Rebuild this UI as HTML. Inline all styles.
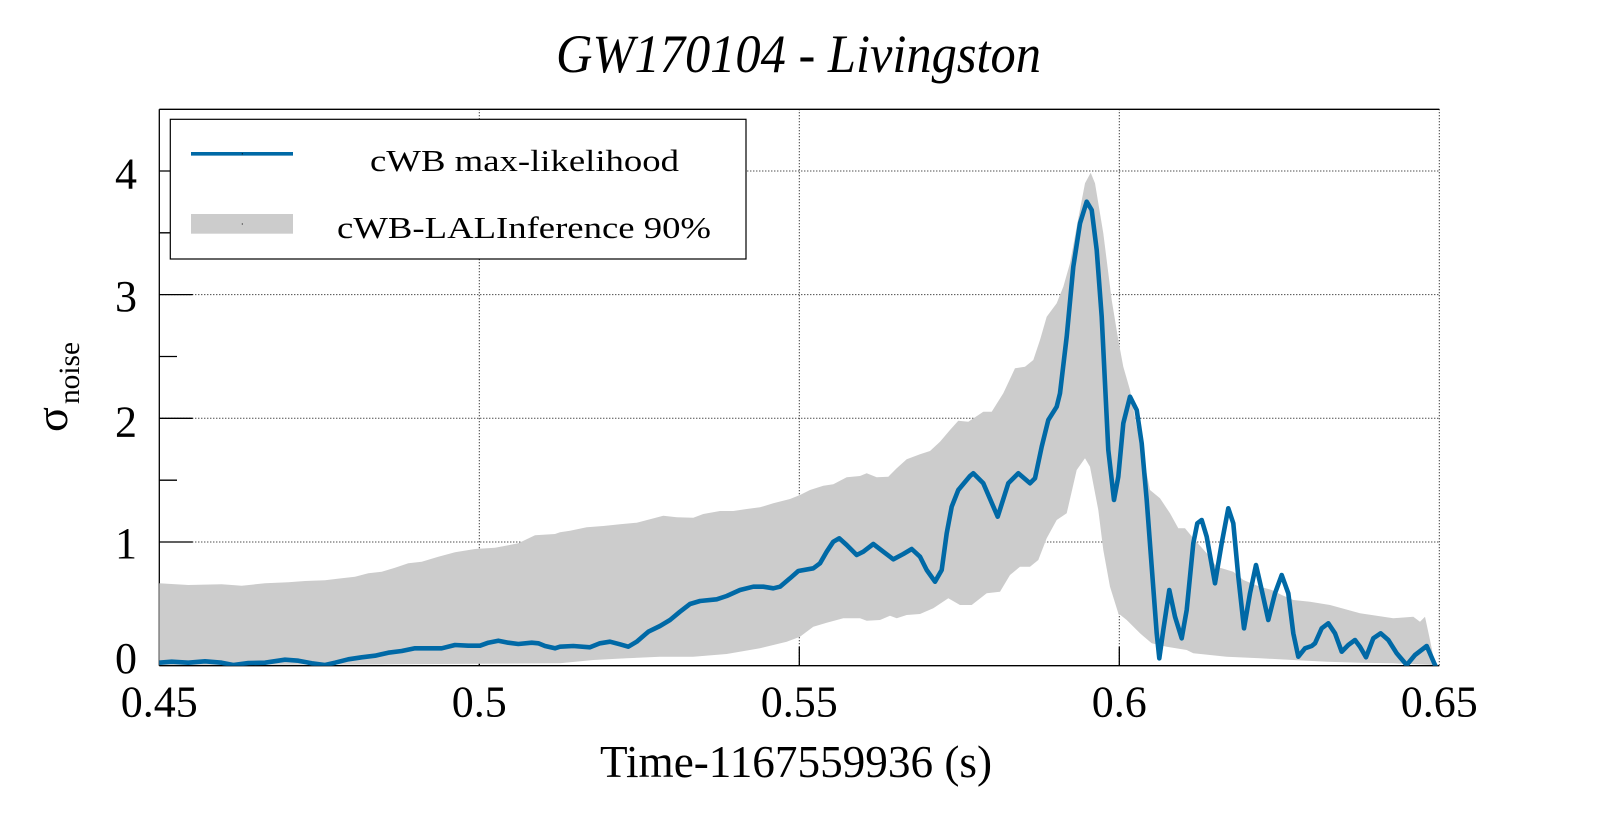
<!DOCTYPE html>
<html>
<head>
<meta charset="utf-8">
<style>
  html, body { margin: 0; padding: 0; background: #ffffff; }
  svg { display: block; }
  text { font-family: "Liberation Serif", "DejaVu Serif", serif; fill: #000; }
</style>
</head>
<body>
<svg width="1599" height="813" viewBox="0 0 1599 813" xmlns="http://www.w3.org/2000/svg">
  <rect x="0" y="0" width="1599" height="813" fill="#ffffff"/>
  <defs>
    <clipPath id="plot">
      <rect x="159.3" y="109.3" width="1280" height="556.4"/>
    </clipPath>
  </defs>

  <!-- Title -->
  <text x="556" y="72" font-size="54" font-style="italic" textLength="485" lengthAdjust="spacingAndGlyphs">GW170104 - Livingston</text>

  <!-- Grid (dotted) -->
  <g stroke="#000" stroke-width="1" stroke-dasharray="1 2" fill="none">
    <line x1="479.3" y1="109.3" x2="479.3" y2="665.7"/>
    <line x1="799.3" y1="109.3" x2="799.3" y2="665.7"/>
    <line x1="1119.3" y1="109.3" x2="1119.3" y2="665.7"/>
    <line x1="159.3" y1="171" x2="1439.3" y2="171"/>
    <line x1="159.3" y1="294.6" x2="1439.3" y2="294.6"/>
    <line x1="159.3" y1="418.3" x2="1439.3" y2="418.3"/>
    <line x1="159.3" y1="542" x2="1439.3" y2="542"/>
    <line x1="1439.3" y1="109.3" x2="1439.3" y2="665.7"/>
  </g>

  <!-- Frame -->
  <g stroke="#000" stroke-width="1.3" fill="none">
    <line x1="159.3" y1="109.3" x2="1439.3" y2="109.3"/>
    <line x1="159.3" y1="109.3" x2="159.3" y2="665.7"/>
    <line x1="159.3" y1="665.7" x2="1439.3" y2="665.7"/>
  </g>

  <!-- Ticks -->
  <g stroke="#000" stroke-width="1.3" fill="none">
    <line x1="159.3" y1="171" x2="192.5" y2="171"/>
    <line x1="159.3" y1="294.6" x2="192.5" y2="294.6"/>
    <line x1="159.3" y1="418.3" x2="192.5" y2="418.3"/>
    <line x1="159.3" y1="542" x2="192.5" y2="542"/>
    <line x1="159.3" y1="232.8" x2="177" y2="232.8"/>
    <line x1="159.3" y1="356.5" x2="177" y2="356.5"/>
    <line x1="159.3" y1="480.2" x2="177" y2="480.2"/>
    <line x1="159.3" y1="603.9" x2="177" y2="603.9"/>
    <line x1="479.3" y1="665.7" x2="479.3" y2="646.7"/>
    <line x1="799.3" y1="665.7" x2="799.3" y2="646.7"/>
    <line x1="1119.3" y1="665.7" x2="1119.3" y2="646.7"/>
  </g>

  <!-- Band -->
  <polygon clip-path="url(#plot)" fill="#cccccc" points="159,583.3 188.3,585 221.7,584.3 241.7,585.7 265,583.3 288.3,582.3 305,581 325,580.3 341.7,578.3 355,576.7 368.3,573.3 381.7,571.7 395,567.7 408.3,563.3 421.7,561.7 438.3,556.7 455,552.3 475,549 495,547.7 508.3,545.3 518.3,543.3 535,535.3 555,534 560,532.3 570,530.7 586.7,527.3 603.3,526 620,524.3 636.7,522.7 650,519.3 663.3,515.7 676.7,517.3 693.3,517.7 703.3,514 720,511 733.3,511 746.7,509 760,507.3 773.3,503.3 790,499 800,495 810,490 823.3,485.7 833.3,484.3 846.7,477.3 860,476 866.7,473.3 876.7,477.3 888.3,476.7 896.7,468.3 906.7,459.3 920,454.3 930,451 940,441.7 950,430 958.3,420.7 968.3,421.7 983.3,411.7 991.7,411.7 1003.3,393.3 1015,368.3 1025,366.7 1033.3,360 1040,340 1046.7,316.7 1056.7,303.3 1063.3,286.7 1070,263.3 1076.7,226.7 1085,183.3 1090.7,172.7 1095,183.3 1103.3,233.3 1111.7,300 1118.3,340 1123.3,366.7 1130,390 1136.7,426.7 1143.3,456.7 1150,490 1160,498.3 1170,513.3 1178.3,528.3 1185,528.3 1193.3,538.3 1206.7,553.3 1216.7,566.7 1233.3,571.7 1243.3,580 1260,586.7 1271.7,590 1281.7,595 1293.3,600 1310,601.7 1330,605 1360,613.3 1393.3,618.3 1413.3,616.7 1420,621.7 1425,616.7 1430,640 1435,665 1393.3,663.3 1360,662.7 1326.7,661.7 1293.3,660 1260,658.3 1226.7,656.7 1193.3,653.3 1186.7,650 1166.7,646.7 1151.7,643.3 1140,633.3 1126.7,620 1118.3,613.3 1110,586.7 1103.3,550 1098.3,510 1090,466.7 1085,458.3 1076.7,470 1066.7,513.3 1056.7,520 1046.7,538.3 1038.3,560 1030,566.7 1020,566.7 1010,575 1000,591.7 986.7,593.3 971.7,605 960,605 948.3,598.3 933.3,608.3 920,614 906.7,615 896.7,618.3 890,615.7 880,620 866.7,620.7 860,618.3 843.3,618.3 826.7,622.7 813.3,626.7 800,636.7 786.7,641.7 760,648.3 726.7,654 693.3,656.7 660,656.7 626.7,658.3 593.3,660 560,663.3 388.3,664.3 159,665"/>

  <!-- Line -->
  <polyline clip-path="url(#plot)" fill="none" stroke="#0069a6" stroke-width="4.6" stroke-linejoin="round" stroke-linecap="round" points="159,662.7 171.7,661.7 188.3,662.7 205,661.3 221.7,662.7 233.3,665 248.3,663 265,662.7 285,659.7 298.3,660.7 311.7,663.3 325,665 335,662.7 348.3,659.3 361.7,657.3 375,655.7 388.3,652.7 401.7,651 415,648.3 431.7,648.3 441.7,648.3 455,645 468.3,645.7 480,645.7 488.3,642.7 498.3,640.7 508.3,642.7 518.3,644 531.7,642.7 538.3,643.3 545,646 555,648.3 560,646.7 573.3,646 590,647.3 600,643.3 610,641.7 620,644.3 628.3,646.7 636.7,641.7 648.3,631.7 660,626 670,620 680,611.7 690,604 700,601 716.7,599.3 726.7,596 740,590 753.3,586.7 763.3,586.7 773.3,588.3 780,586.7 790,578.3 798.3,571 813.3,568.3 820,563.3 826.7,551.7 833.3,541.7 839.3,538.3 846.7,545 856.7,555 863.3,551.7 873.3,544 883.3,551.7 893.3,559.3 903.3,554 911.7,549 920,556.7 926.7,570 935,581.7 941.7,570 946.7,533.3 951.7,506.7 958.3,490 970,476 973.3,473.3 983.3,483.3 997.7,516.7 1008.3,483.3 1018.3,473.3 1030,483.3 1035,478.3 1041.7,446.7 1048.3,420 1056.7,406.7 1060,393.3 1066.7,336.7 1073.3,266.7 1080,223.3 1086.7,201.7 1091.7,210 1096.7,250 1101.7,316.7 1105,383.3 1108.3,450 1114,500 1118.3,476.7 1123.3,423.3 1130,396.7 1136.7,410 1141.7,443.3 1146.7,500 1151.7,566.7 1156.7,633.3 1159.3,658.3 1163.3,630 1169.3,590 1175,616.7 1181.7,638.3 1186.7,610 1193.3,543.3 1197.3,523.3 1201.7,520 1206.7,536.7 1215,583.3 1221.7,543.3 1228.3,508.3 1233.3,523.3 1238.3,576.7 1244,628.3 1250,593.3 1256,565 1261.7,590 1268.3,620 1275,593.3 1281.7,575 1288.3,593.3 1293.3,633.3 1298.3,656.7 1305,648.3 1311.7,646 1315,643.3 1321.7,628.3 1328.3,623.3 1335,633.3 1341.7,651.7 1348.3,645 1355,640 1360,646.7 1366,657.3 1373.3,638.3 1380.7,633.3 1388.3,640 1396.7,653.3 1406.7,665 1415,655 1426.7,646 1435,665 1439,672"/>

  <!-- Legend -->
  <rect x="170.3" y="119.3" width="575.7" height="139.7" fill="#ffffff" stroke="#000" stroke-width="1.2"/>
  <line x1="191" y1="153.8" x2="293" y2="153.8" stroke="#0069a6" stroke-width="3.7"/>
  <rect x="191" y="214" width="102" height="19.7" fill="#cccccc"/>
  <rect x="241.8" y="153.3" width="1" height="1" fill="#000"/>
  <rect x="241.8" y="223.5" width="1" height="1" fill="#000"/>
  <text x="370" y="171" font-size="31" textLength="309" lengthAdjust="spacingAndGlyphs">cWB max-likelihood</text>
  <text x="337" y="238" font-size="31" textLength="374" lengthAdjust="spacingAndGlyphs">cWB-LALInference 90%</text>

  <!-- Y tick labels -->
  <g font-size="44" text-anchor="end">
    <text x="137" y="188.3">4</text>
    <text x="137" y="311">3</text>
    <text x="137" y="436.5">2</text>
    <text x="137" y="558">1</text>
    <text x="137" y="673">0</text>
  </g>

  <!-- X tick labels -->
  <g font-size="44" text-anchor="middle">
    <text x="159.3" y="716.5">0.45</text>
    <text x="479.3" y="716.5">0.5</text>
    <text x="799.3" y="716.5">0.55</text>
    <text x="1119.3" y="716.5">0.6</text>
    <text x="1439.3" y="716.5">0.65</text>
  </g>

  <!-- X axis title -->
  <text x="600" y="777" font-size="46" textLength="392" lengthAdjust="spacingAndGlyphs">Time-1167559936 (s)</text>

  <!-- Y axis title -->
  <text transform="translate(67,432) rotate(-90)" font-size="46" textLength="25" lengthAdjust="spacingAndGlyphs">σ</text>
  <text transform="translate(79,404) rotate(-90)" font-size="30" textLength="62" lengthAdjust="spacingAndGlyphs">noise</text>
</svg>
</body>
</html>
